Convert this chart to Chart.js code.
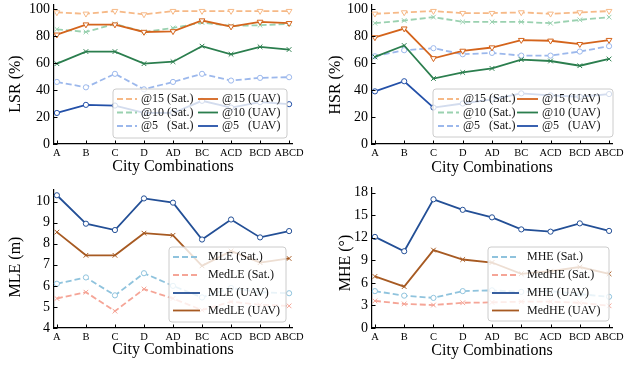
<!DOCTYPE html>
<html>
<head>
<meta charset="utf-8">
<script src="https://cdn.jsdelivr.net/npm/chart.js@4.4.1/dist/chart.umd.min.js"></script>
<style>
  body { margin: 0; background: #fff; }
  #wrap { position: relative; width: 624px; height: 366px; }
  canvas { position: absolute; }
</style>
</head>
<body>
<div id="wrap">
  <canvas id="lsr" width="312" height="183" style="left:0;top:0"></canvas>
  <canvas id="hsr" width="312" height="183" style="left:312px;top:0"></canvas>
  <canvas id="mle" width="312" height="183" style="left:0;top:183px"></canvas>
  <canvas id="mhe" width="312" height="183" style="left:312px;top:183px"></canvas>
</div>
<script>
var cities = ['A', 'B', 'C', 'D', 'AD', 'BC', 'ACD', 'BCD', 'ABCD'];

var lsrSat15 = [97.5, 96.5, 98.5, 96, 98.5, 98.5, 98.5, 98.5, 98.5];
var lsrUav15 = [81, 88.5, 88.5, 83, 83.5, 91.5, 87, 90.5, 89.5];
var lsrSat10 = [85, 83, 89, 83, 86, 90, 87.5, 88, 89];
var lsrUav10 = [59.5, 68.5, 68.5, 59.5, 61, 72.5, 66.5, 72, 70];
var lsrSat5  = [46, 42, 52, 40.5, 46, 52, 47, 49, 49.5];
var lsrUav5  = [23, 29, 28.5, 23, 23, 32, 27, 31, 29.5];

var hsrSat15 = [96.5, 97.5, 98.5, 97, 97, 97.5, 96.5, 97.5, 98.5];
var hsrUav15 = [79, 85.5, 63.5, 69, 71.5, 77, 76.5, 74, 77];
var hsrSat10 = [89.5, 91.5, 94, 90.5, 90.5, 90.5, 89.5, 92, 94];
var hsrUav10 = [64.5, 73, 48.5, 53, 56, 62.5, 61.5, 58, 63];
var hsrSat5  = [65, 69.5, 71, 66.5, 67.5, 65.5, 65.5, 68.5, 72.5];
var hsrUav5  = [39, 46.5, 27, 30, 33, 37.5, 36, 35, 37];

var mleSat   = [6.1, 6.4, 5.55, 6.6, 6.0, 5.45, 5.9, 5.7, 5.65];
var medleSat = [5.4, 5.7, 4.8, 5.85, 5.4, 4.85, 5.25, 5.1, 5.05];
var mleUav   = [10.3, 8.95, 8.65, 10.15, 9.95, 8.2, 9.15, 8.3, 8.6];
var medleUav = [8.55, 7.45, 7.45, 8.5, 8.4, 6.95, 7.65, 7.1, 7.3];

var mheSat   = [4.9, 4.3, 4.0, 4.9, 5.0, 4.8, 4.9, 4.5, 4.15];
var medheSat = [3.6, 3.2, 3.05, 3.35, 3.4, 3.5, 3.5, 3.35, 2.95];
var mheUav   = [12.1, 10.2, 17.1, 15.7, 14.7, 13.1, 12.8, 13.9, 12.9];
var medheUav = [6.85, 5.5, 10.35, 9.1, 8.7, 7.2, 7.55, 8.1, 7.2];

var rateTicks = [0, 20, 40, 60, 80, 100];
var mleTicks = [4, 5, 6, 7, 8, 9, 10];
var mheTicks = [0, 3, 6, 9, 12, 15, 18];

var FONT = '"Liberation Serif", "Times New Roman", serif';
Chart.defaults.color = '#000';
Chart.defaults.font.family = FONT;

var line = function(label, values, color, dashed, marker) {
  return {
    label: label,
    data: values.map(function(v, i) { return {x: i, y: v}; }),
    borderColor: color,
    borderWidth: 1.8,
    borderDash: dashed ? [6, 3] : [],
    pointStyle: marker,
    pointRadius: marker === 'circle' ? 2.6 : 3.3,
    pointRotation: marker === 'triangle' ? 180 : 0,
    pointBorderColor: color,
    pointBackgroundColor: '#fff',
    pointBorderWidth: 1,
    tension: 0,
    clip: 6
  };
};

// matplotlib style ticks pointing into the plot
var insideTicks = {
  id: 'insideTicks',
  afterDatasetsDraw: function(chart) {
    var ctx = chart.ctx, a = chart.chartArea;
    ctx.save();
    ctx.strokeStyle = '#000';
    ctx.lineWidth = 1;
    ctx.beginPath();
    chart.scales.x.ticks.forEach(function(t) {
      var px = Math.round(chart.scales.x.getPixelForValue(t.value)) + 0.5;
      ctx.moveTo(px, a.bottom);
      ctx.lineTo(px, a.bottom - 3.5);
    });
    chart.scales.y.ticks.forEach(function(t) {
      var py = Math.round(chart.scales.y.getPixelForValue(t.value)) + 0.5;
      ctx.moveTo(a.left, py);
      ctx.lineTo(a.left + 3.5, py);
    });
    ctx.stroke();
    ctx.restore();
  }
};

// rotated y label, placed where the reference has it
var yLabel = function(text, x, y) {
  return {
    id: 'yLabel',
    afterDraw: function(chart) {
      var ctx = chart.ctx;
      ctx.save();
      ctx.translate(x, y);
      ctx.rotate(-Math.PI / 2);
      ctx.font = '16px ' + FONT;
      ctx.fillStyle = '#000';
      ctx.textAlign = 'center';
      ctx.textBaseline = 'middle';
      ctx.fillText(text, 0, 0);
      ctx.restore();
    }
  };
};

var boxLegend = function(spec) {
  return {
    id: 'boxLegend',
    afterDatasetsDraw: function(chart) {
      var ctx = chart.ctx;
      ctx.save();
      ctx.beginPath();
      if (ctx.roundRect) ctx.roundRect(spec.x, spec.y, spec.w, spec.h, 3);
      else ctx.rect(spec.x, spec.y, spec.w, spec.h);
      ctx.fillStyle = 'rgba(255,255,255,0.8)';
      ctx.fill();
      ctx.strokeStyle = '#cccccc';
      ctx.lineWidth = 1;
      ctx.stroke();
      ctx.font = '12px ' + FONT;
      ctx.textBaseline = 'middle';
      chart.data.datasets.forEach(function(ds, i) {
        var hx = spec.cols[spec.slots[i][0]], hy = spec.rows[spec.slots[i][1]];
        ctx.strokeStyle = ds.borderColor;
        ctx.lineWidth = ds.borderWidth;
        ctx.setLineDash(ds.borderDash);
        ctx.beginPath();
        ctx.moveTo(hx, hy);
        ctx.lineTo(hx + spec.handle, hy);
        ctx.stroke();
        ctx.setLineDash([]);
        ctx.fillStyle = '#111';
        ctx.fillText(ds.label, hx + spec.handle + spec.gap, hy);
      });
      ctx.restore();
    }
  };
};

var makeChart = function(id, datasets, p) {
  return new Chart(document.getElementById(id), {
    type: 'line',
    data: {datasets: datasets},
    options: {
      responsive: false,
      animation: false,
      devicePixelRatio: 1,
      layout: {padding: {left: 0, top: p.top, right: p.right, bottom: 0}},
      plugins: {legend: {display: false}, tooltip: {enabled: false}},
      scales: {
        x: {
          type: 'linear', min: -0.1, max: 8.1,
          grid: {display: true, drawOnChartArea: false, drawTicks: false},
          border: {display: true, color: '#000', width: 1.2},
          ticks: {
            autoSkip: false, maxRotation: 0, padding: 3,
            font: {size: 10.5},
            callback: function(v) { return cities[v]; }
          },
          title: {display: true, text: 'City Combinations', font: {size: 16},
                  padding: {top: 0, bottom: p.xPad}},
          afterBuildTicks: function(s) {
            s.ticks = cities.map(function(c, i) { return {value: i}; });
          },
          afterFit: function(s) {
            s.height = p.bottom;
            s.paddingLeft = 0;
            s.paddingRight = 0;
          }
        },
        y: {
          min: p.ymin, max: p.ymax,
          grid: {display: true, drawOnChartArea: false, drawTicks: false},
          border: {display: true, color: '#000', width: 1.2},
          ticks: {padding: 4, font: {size: 14}},
          afterBuildTicks: function(s) {
            s.ticks = p.ticks.map(function(v) { return {value: v}; });
          },
          afterFit: function(s) {
            s.width = p.left;
            s.paddingTop = 0;
            s.paddingBottom = 0;
          }
        }
      }
    },
    plugins: [insideTicks, boxLegend(p.legend), yLabel(p.ylabel, p.yx, p.yy)]
  });
};

var rateSlots = [[0, 0], [1, 0], [0, 1], [1, 1], [0, 2], [1, 2]];
var errSlots = [[0, 0], [0, 1], [0, 2], [0, 3]];

makeChart('lsr', [
  line('@15 (Sat.)', lsrSat15, '#f6b987', true, 'triangle'),
  line('@15 (UAV)', lsrUav15, '#d4641c', false, 'triangle'),
  line('@10 (Sat.)', lsrSat10, '#9ad1b0', true, 'crossRot'),
  line('@10 (UAV)', lsrUav10, '#2b7e4e', false, 'crossRot'),
  line('@5   (Sat.)', lsrSat5, '#9cb8ec', true, 'circle'),
  line('@5   (UAV)', lsrUav5, '#2350a8', false, 'circle')
], {
  left: 54, top: 5, right: 20, bottom: 39, ymin: 0, ymax: 103, ticks: rateTicks,
  ylabel: 'LSR (%)', yx: 15.5, yy: 84, xPad: 7,
  legend: {x: 113, y: 89, w: 174, h: 49, cols: [117, 198], rows: [99, 112.5, 126],
           handle: 20, gap: 4, slots: rateSlots}
});

makeChart('hsr', [
  line('@15 (Sat.)', hsrSat15, '#f6b987', true, 'triangle'),
  line('@15 (UAV)', hsrUav15, '#d4641c', false, 'triangle'),
  line('@10 (Sat.)', hsrSat10, '#9ad1b0', true, 'crossRot'),
  line('@10 (UAV)', hsrUav10, '#2b7e4e', false, 'crossRot'),
  line('@5   (Sat.)', hsrSat5, '#9cb8ec', true, 'circle'),
  line('@5   (UAV)', hsrUav5, '#2350a8', false, 'circle')
], {
  left: 60, top: 5, right: 12, bottom: 39, ymin: 0, ymax: 103, ticks: rateTicks,
  ylabel: 'HSR (%)', yx: 24, yy: 85, xPad: 6,
  legend: {x: 121, y: 89, w: 180, h: 48, cols: [126, 205], rows: [99, 112.5, 126],
           handle: 21, gap: 4, slots: rateSlots}
});

makeChart('mle', [
  line('MLE (Sat.)', mleSat, '#8fc3dd', true, 'circle'),
  line('MedLE (Sat.)', medleSat, '#f5a597', true, 'crossRot'),
  line('MLE (UAV)', mleUav, '#234f96', false, 'circle'),
  line('MedLE (UAV)', medleUav, '#a75a22', false, 'crossRot')
], {
  left: 54, top: 7, right: 20, bottom: 38, ymin: 4, ymax: 10.55, ticks: mleTicks,
  ylabel: 'MLE (m)', yx: 16, yy: 84, xPad: 7,
  legend: {x: 169, y: 64, w: 117, h: 75, cols: [173], rows: [74, 92, 110, 127.5],
           handle: 27, gap: 8, slots: errSlots}
});

makeChart('mhe', [
  line('MHE (Sat.)', mheSat, '#8fc3dd', true, 'circle'),
  line('MedHE (Sat.)', medheSat, '#f5a597', true, 'crossRot'),
  line('MHE (UAV)', mheUav, '#234f96', false, 'circle'),
  line('MedHE (UAV)', medheUav, '#a75a22', false, 'crossRot')
], {
  left: 60, top: 4, right: 12, bottom: 38, ymin: 0, ymax: 18.6, ticks: mheTicks,
  ylabel: 'MHE (°)', yx: 34, yy: 80, xPad: 6,
  legend: {x: 176, y: 64, w: 121, h: 74, cols: [180], rows: [74, 92, 110, 127.5],
           handle: 27, gap: 8, slots: errSlots}
});
</script>
</body>
</html>
